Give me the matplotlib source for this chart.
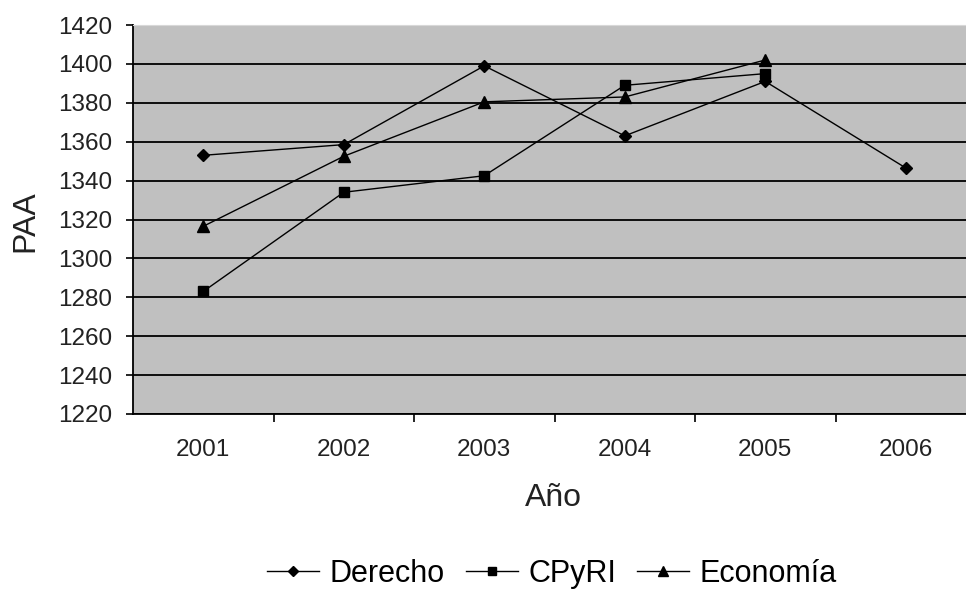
import matplotlib
matplotlib.use("Agg")
import matplotlib.pyplot as plt
import numpy as np

plt.rcParams['font.family'] = ['Liberation Sans', 'DejaVu Sans']

# datos
anios = ['2001', '2002', '2003', '2004', '2005', '2006']
derecho = [1353, 1358.5, 1399, 1363, 1391, 1346.5]
cpyri = [1283, 1334, 1342.5, 1389, 1395]
economia = [1316.5, 1352.5, 1380.5, 1383, 1402]

fig = plt.figure(figsize=(9.66, 5.92), dpi=100)
ax = fig.add_axes([133/966, 1-414/592, 843/966, (414-25)/592])
ax.set_facecolor('#c0c0c0')

x = np.arange(len(anios))
ax.plot(x[:len(derecho)], derecho, color='black', lw=1, marker='D', ms=6.5, label='Derecho')
ax.plot(x[:len(cpyri)], cpyri, color='black', lw=1, marker='s', ms=7.5, label='CPyRI')
ax.plot(x[:len(economia)], economia, color='black', lw=1, marker='^', ms=8.5, label='Economía')

ax.set_xlim(-0.5, len(anios) - 0.5)
ax.set_ylim(1220, 1420)
ax.set_yticks(np.arange(1220, 1421, 20))
ax.yaxis.grid(True, color='black', lw=1.3)
ax.set_axisbelow(True)

ax.set_xticks(x)
ax.set_xticklabels(anios)
ax.set_xticks(np.arange(0.5, len(anios) - 0.5), minor=True)
ax.tick_params(axis='x', which='major', length=0, pad=18, labelsize=17.5, labelcolor='#222222')
ax.tick_params(axis='x', which='minor', length=6, width=1.2, direction='out')
ax.tick_params(axis='y', length=5, width=1.2, pad=10, labelsize=17.5, labelcolor='#222222')

ax.spines['top'].set_color('#d8d8d8')
ax.spines['right'].set_visible(False)
for s in ['left', 'bottom']:
    ax.spines[s].set_linewidth(1.3)

fig.text(25/966, 1-221/592, 'PAA', rotation=90, ha='center', va='center', fontsize=23, color='#222222')
fig.text(553/966, 1-498/592, 'Año', ha='center', va='center', fontsize=23, color='#222222')

fig.legend(loc='center', bbox_to_anchor=(552/966, 1-574/592), ncol=3, frameon=False,
           fontsize=22, handlelength=1.7, handletextpad=0.33, columnspacing=0.7,
           markerscale=0.8)

fig.savefig('out.png', dpi=100)
